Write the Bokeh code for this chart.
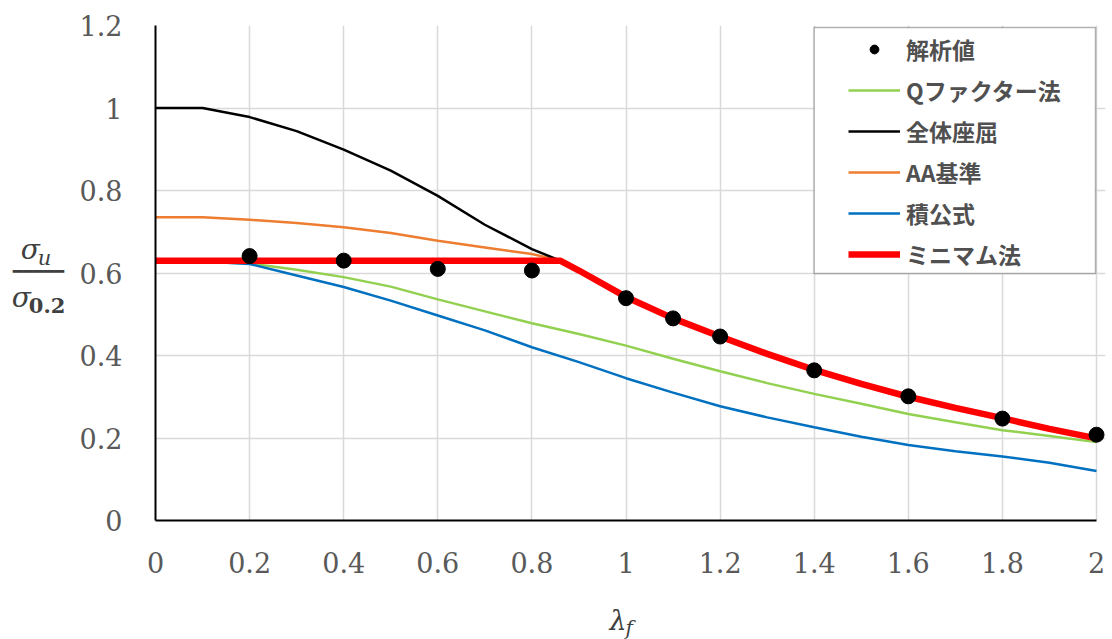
from bokeh.plotting import figure
from bokeh.models import (FixedTicker, Legend, LegendItem, Label, BoxAnnotation)
from bokeh.embed import file_html
from bokeh.resources import INLINE

# ---------------- data ----------------
x_ticks = [0.0, 0.2, 0.4, 0.6, 0.8, 1.0, 1.2, 1.4, 1.6, 1.8, 2.0]
x_tick_labels = ["0", "0.2", "0.4", "0.6", "0.8", "1", "1.2", "1.4", "1.6", "1.8", "2"]
y_ticks = [0.0, 0.2, 0.4, 0.6, 0.8, 1.0, 1.2]
y_tick_labels = ["0", "0.2", "0.4", "0.6", "0.8", "1", "1.2"]

# 解析値 (analysis points)
lam_pts = [0.2, 0.4, 0.6, 0.8, 1.0, 1.1, 1.2, 1.4, 1.6, 1.8, 2.0]
sig_pts = [0.641, 0.630, 0.610, 0.606, 0.539, 0.490, 0.446, 0.364, 0.301, 0.247, 0.208]

lam = [0.0, 0.1, 0.2, 0.3, 0.4, 0.5, 0.6, 0.7, 0.8, 0.9, 1.0,
       1.1, 1.2, 1.3, 1.4, 1.5, 1.6, 1.7, 1.8, 1.9, 2.0]
# Qファクター法
q_factor = [0.630, 0.628, 0.623, 0.608, 0.590, 0.567, 0.536, 0.507, 0.478, 0.452, 0.424,
            0.392, 0.362, 0.333, 0.307, 0.283, 0.258, 0.238, 0.219, 0.205, 0.190]
# 積公式
product = [0.630, 0.628, 0.622, 0.594, 0.566, 0.533, 0.497, 0.461, 0.420, 0.384, 0.345,
           0.310, 0.277, 0.250, 0.226, 0.203, 0.183, 0.168, 0.155, 0.140, 0.120]

lam_short = [0.0, 0.1, 0.2, 0.3, 0.4, 0.5, 0.6, 0.7, 0.8, 0.86]
# 全体座屈
global_buckling = [1.000, 1.000, 0.978, 0.944, 0.899, 0.848, 0.787, 0.717, 0.658, 0.630]
# AA基準
aa_standard = [0.735, 0.735, 0.729, 0.721, 0.711, 0.697, 0.678, 0.662, 0.646, 0.630]

# ミニマム法
lam_min = [0.0, 0.86, 0.9, 1.0, 1.1, 1.2, 1.3, 1.4, 1.5, 1.6, 1.7, 1.8, 1.9, 2.0]
minimum = [0.630, 0.630, 0.606, 0.542, 0.490, 0.446, 0.404, 0.365, 0.331, 0.300, 0.273, 0.248, 0.222, 0.199]

series_names = ["解析値", "Qファクター法", "全体座屈", "AA基準", "積公式", "ミニマム法"]

# ---------------- layout helpers (pixel -> data for annotations) ----------------
W, H = 1112, 639
FL, FR, FT, FB = 155, 1098, 25, 520      # pixel positions of x=0, x=2, y=1.2, y=0
XMAX, YMAX = 2.0, 1.2
FRAME_R = 1107                            # frame extends a little past x=2 so the last dot is whole
XEND = XMAX * (FRAME_R - FL) / (FR - FL)


def dx(px):
    return (px - FL) / (FR - FL) * XMAX


def dy(py):
    return (FB - py) / (FB - FT) * YMAX


p = figure(width=W, height=H, x_range=(0, XEND), y_range=(0, YMAX),
           output_backend="svg", toolbar_location=None,
           min_border_left=FL, min_border_right=W - FRAME_R,
           min_border_top=FT, min_border_bottom=H - FB)
p.outline_line_color = None
p.background_fill_color = "white"
p.border_fill_color = "white"

TICK_FONT = "DejaVu Serif"
for ax, ticks, labels in ((p.xaxis[0], x_ticks, x_tick_labels), (p.yaxis[0], y_ticks, y_tick_labels)):
    ax.ticker = FixedTicker(ticks=ticks)
    ax.major_label_overrides = {t: l for t, l in zip(ticks, labels)}
    ax.major_tick_line_color = None
    ax.minor_tick_line_color = None
    ax.axis_line_color = "black"
    ax.axis_line_width = 2
    ax.major_label_text_font = TICK_FONT
    ax.major_label_text_font_size = "27px"
    ax.major_label_text_color = "#595959"
p.xaxis.bounds = (0, XMAX)
p.xaxis.major_label_standoff = 25
p.yaxis.major_label_standoff = 27

p.xgrid.ticker = FixedTicker(ticks=x_ticks)
p.ygrid.ticker = FixedTicker(ticks=y_ticks)
for g in (p.xgrid[0], p.ygrid[0]):
    g.grid_line_color = "#D9D9D9"
    g.grid_line_width = 1.5

r_q = p.line(lam, q_factor, line_color="#92D050", line_width=2.5)
r_p = p.line(lam, product, line_color="#0070C0", line_width=2.5)
r_aa = p.line(lam_short, aa_standard, line_color="#ED7D31", line_width=2.5)
r_g = p.line(lam_short, global_buckling, line_color="black", line_width=2.5)
r_m = p.line(lam_min, minimum, line_color="#FF0000", line_width=6.5)
r_pts = p.scatter(lam_pts, sig_pts, size=15, marker="circle", fill_color="black", line_color="black")

# legend frame
box = BoxAnnotation(left=dx(815), right=dx(1097), top=dy(27), bottom=dy(273),
                    fill_color="white", fill_alpha=1.0, line_color="black", line_width=1.5)
p.add_layout(box)

items = [LegendItem(label=n, renderers=[r]) for n, r in
         zip(series_names, [r_pts, r_q, r_g, r_aa, r_p, r_m])]
legend = Legend(items=items, location=(848 - FL, FB - 271), margin=0, padding=0,
                glyph_width=52, glyph_height=22, label_height=22, spacing=7,
                label_standoff=6, border_line_alpha=0, background_fill_alpha=0,
                label_text_font="Noto Sans CJK JP", label_text_font_size="23px",
                label_text_color="#505050", label_text_font_style="bold")
p.add_layout(legend)

# Axis-title texts live in the side panels (so they are not clipped to the frame),
# but are positioned with data coordinates. They are spread over the panels so that
# no panel grows beyond its border size.
LBL_COLOR = "#404040"
SERIF = "DejaVu Serif"


def lab(px, py, text, size, style="italic", font=SERIF):
    return Label(x=dx(px), y=dy(py), text=text, text_font=font, text_font_style=style,
                 text_font_size=size, text_color=LBL_COLOR, text_baseline="alphabetic")


# y-axis title: sigma_u / sigma_0.2
p.add_layout(lab(20, 249, "σ", "28px"), "left")
p.add_layout(lab(37, 257, "u", "21px"), "left")
p.add_layout(lab(12, 270, "━━━━━", "17px", style="normal", font="DejaVu Sans Mono"), "above")
p.add_layout(lab(11, 297, "σ", "28px"), "left")
p.add_layout(lab(28, 305, "0.2", "21px", style="bold"), "below")

# x-axis title: lambda_f
p.add_layout(lab(610, 620, "λ", "27px"), "left")
p.add_layout(lab(626, 627, "f", "20px"), "right")

open("out.html", "w").write(file_html(p, INLINE))
